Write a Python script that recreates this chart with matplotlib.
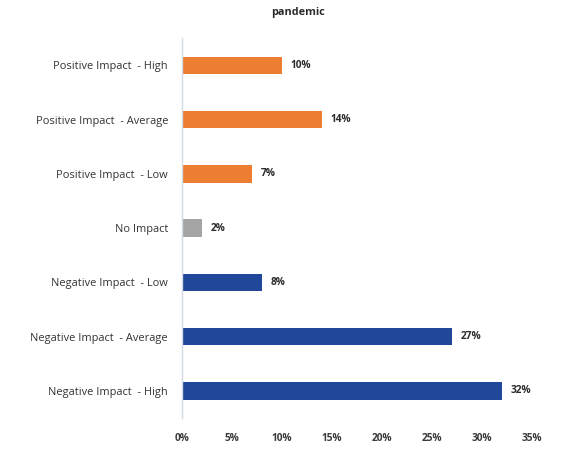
import matplotlib
matplotlib.use("Agg")
import matplotlib.pyplot as plt
from matplotlib.ticker import FuncFormatter

# ── data (top to bottom) ──
categories = [
    "Positive Impact  - High",
    "Positive Impact  - Average",
    "Positive Impact  - Low",
    "No Impact",
    "Negative Impact  - Low",
    "Negative Impact  - Average",
    "Negative Impact  - High",
]
values = [10, 14, 7, 2, 8, 27, 32]
groups = ["pos", "pos", "pos", "none", "neg", "neg", "neg"]
x_ticks = [0, 5, 10, 15, 20, 25, 30, 35]

COLOURS = {"pos": "#ED7D31", "none": "#A5A5A5", "neg": "#21479B"}

plt.rcParams["font.family"] = ["Open Sans", "DejaVu Sans"]

fig = plt.figure(figsize=(5.73, 4.49), dpi=100, facecolor="white")
ax = fig.add_axes([0.3176, 0.069, 0.6108, 0.846])

ypos = list(range(len(categories)))
bars = ax.barh(ypos, values, height=0.32,
               color=[COLOURS[g] for g in groups])

for b, v in zip(bars, values):
    ax.annotate(f"{v}%", (b.get_width(), b.get_y() + b.get_height() / 2),
                xytext=(6, 0), textcoords="offset points",
                ha="left", va="center", fontsize=7.3, fontweight="bold",
                color="#2b2b2b")

ax.set_ylim(len(categories) - 0.5, -0.5)
ax.set_xlim(0, 35)
ax.set_yticks(ypos)
ax.set_yticklabels(categories, fontsize=7.9, color="#333333")
ax.set_xticks(x_ticks)
ax.xaxis.set_major_formatter(FuncFormatter(lambda v, p: f"{v:.0f}%"))
for lbl in ax.get_xticklabels():
    lbl.set_fontweight("bold")
ax.tick_params(axis="x", length=0, pad=11, labelsize=7.3, labelcolor="#3a3a3a")
ax.tick_params(axis="y", length=0, pad=10)

for s in ["top", "right", "bottom"]:
    ax.spines[s].set_visible(False)
ax.spines["left"].set_color("#D3DAE6")
ax.spines["left"].set_linewidth(1.0)

fig.text(0.52, 0.972, "pandemic", ha="center", va="center",
         fontsize=7.8, fontweight="bold", color="#2b2b2b")

fig.savefig("out.png", dpi=100, facecolor="white")
